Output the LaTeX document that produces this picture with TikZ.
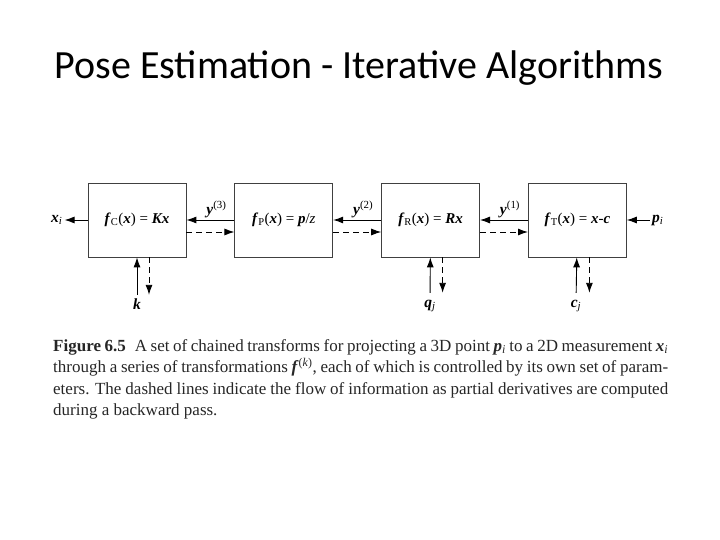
\documentclass[tikz,border=0pt]{standalone}
\usepackage{fontspec}
\setmainfont{Liberation Serif}
\newfontfamily\titlefont{Carlito}
\usetikzlibrary{arrows.meta,positioning}
\newcommand{\bi}[1]{\textbf{\textit{#1}}}

\begin{document}
\begin{tikzpicture}[x=1pt,y=-1pt,>={Latex[length=10pt,width=7pt]},
  blk/.style={draw=black!75,line width=0.8pt,minimum width=98pt,minimum height=74pt,inner sep=0pt,font=\fontsize{15}{18}\selectfont},
  lab/.style={inner sep=2pt,font=\fontsize{15.5}{18}\selectfont},
  par/.style={lab,anchor=base,text height=12pt,text depth=4pt},
  back/.style={dash pattern=on 6pt off 4pt}]
\useasboundingbox (0,0) rectangle (720,540);
\node (title) at (359,68) {\titlefont\fontsize{40}{44}\selectfont Pose Estimation - Iterative Algorithms};
% chain of transforms
\node (fc) [blk] at (137,220) {\bi{f}\textsubscript{C}(\bi{x}) = \bi{Kx}};
\node (fp) [blk,right=48pt of fc] {\bi{f}\textsubscript{P}(\bi{x}) = \bi{p}/\textit{z}};
\node (fr) [blk,right=48pt of fp] {\bi{f}\textsubscript{R}(\bi{x}) = \bi{Rx}};
\node (ft) [blk,right=48pt of fr] {\bi{f}\textsubscript{T}(\bi{x}) = \bi{x}-\bi{c}};
\node (xi) [lab,left=23pt of fc] {\bi{x}\textsubscript{\textit{i}}};
\node (pi) [lab,right=23pt of ft] {\bi{p}\textsubscript{\textit{i}}};
\node (k) [par] at (137,309) {\bi{k}};
\node (qj) [par] at (430,307) {\bi{q}\textsubscript{\textit{j}}};
\node (cj) [par] at (576,307) {\bi{c}\textsubscript{\textit{j}}};
% forward pass
\draw[->,line width=0.9pt] (fc) -- (xi);
\draw[->,line width=0.9pt] (fp) -- node[lab,above,xshift=6pt]{\bi{y}\textsuperscript{(3)}} (fc);
\draw[->,line width=0.9pt] (fr) -- node[lab,above,xshift=6pt]{\bi{y}\textsuperscript{(2)}} (fp);
\draw[->,line width=0.9pt] (ft) -- node[lab,above,xshift=6pt]{\bi{y}\textsuperscript{(1)}} (fr);
\draw[->,line width=0.9pt] (pi) -- (ft);
\draw[->,line width=0.9pt] (k) -- (fc);
\draw[->,line width=0.9pt] (qj) -- (fr);
\draw[->,line width=0.9pt] (cj) -- (ft);
% backward pass
\draw[->,back,line width=0.9pt] ([yshift=-12pt]fc.east) -- ([yshift=-12pt]fp.west);
\draw[->,back,line width=0.9pt] ([yshift=-12pt]fp.east) -- ([yshift=-12pt]fr.west);
\draw[->,back,line width=0.9pt] ([yshift=-12pt]fr.east) -- ([yshift=-12pt]ft.west);
\draw[->,back,line width=0.9pt] ([xshift=12pt]fc.south) -- ([xshift=12pt]fc.south |- k.north);
\draw[->,back,line width=0.9pt] ([xshift=12pt]fr.south) -- ([xshift=12pt]fr.south |- qj.north);
\draw[->,back,line width=0.9pt] ([xshift=12pt]ft.south) -- ([xshift=12pt]ft.south |- cj.north);
% caption
\node (cap) [anchor=north west,text width=615pt,align=justify,inner sep=0pt,text=black!85,
  font=\fontsize{17}{21.5}\selectfont] at (53,339) {\textbf{Figure 6.5}\hspace{9pt}A set of chained transforms for projecting a 3D point \bi{p}\textsubscript{\textit{i}} to a 2D measurement \bi{x}\textsubscript{\textit{i}}\linebreak through a series of transformations \bi{f}\textsuperscript{(\textit{k})}, each of which is controlled by its own set of param-\linebreak eters. The dashed lines indicate the flow of information as partial derivatives are computed\linebreak during a backward pass.};
\end{tikzpicture}
\end{document}
